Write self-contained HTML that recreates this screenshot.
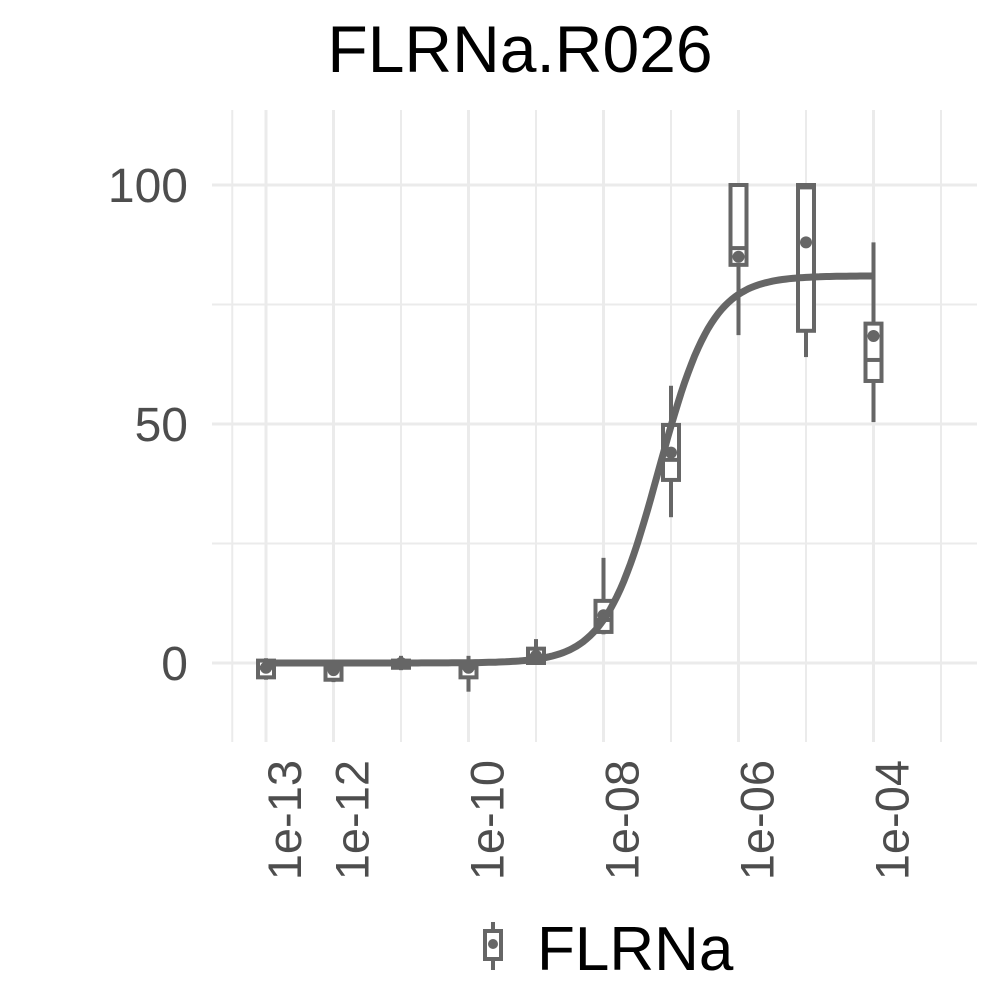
<!DOCTYPE html>
<html><head><meta charset="utf-8"><style>
body{margin:0;background:#fff}
svg text{font-family:"Liberation Sans",sans-serif}
</style></head><body>
<svg id="chart" width="1000" height="1000">
<text x="520" y="72" text-anchor="middle" font-size="66" fill="#000">FLRNa.R026</text>
<g id="grid"></g>
<g id="yaxis"></g>
<g id="xaxis"></g>
<g id="boxes"></g>
<path id="curve" fill="none" stroke="#666" stroke-width="7"></path>
<g>
<g>
<line x1="493" y1="922" x2="493" y2="970" stroke="#666" stroke-width="4"/>
<rect x="485" y="931" width="16" height="28" fill="#fff" stroke="#666" stroke-width="4"/>
<circle cx="493" cy="944" r="5" fill="#666"/>
</g>
<text x="537" y="970" font-size="62" fill="#000">FLRNa</text>
</g>
</svg>
<script>
const doses=[-13,-12,-11,-10,-9,-8,-7,-6,-5,-4];
const wLow=[-3.5,-4,-1.5,-6,0,6,30.5,68.6,64,50.4];
const q1=[-3,-3.5,-1,-3,0,6.5,38.3,83.3,69.5,59];
const med=[-1,-1,0,-1,1.5,9,42.5,86.8,99.5,63.4];
const q3=[0.5,0,0.5,0,3,13,49.8,100,100,71];
const wHigh=[1,0.5,1.5,1.5,5,22,58,100,100,88];
const means=[-1,-1.5,0,-1,1.5,10,44,85,88,68.4];
const yTicks=[0,50,100];
const yMinor=[25,75];
const xTickLabels=["1e-13","1e-12","1e-10","1e-08","1e-06","1e-04"];
const xTickVals=[-13,-12,-10,-8,-6,-4];
const fitBottom=0,fitTop=81,fitLogEC50=-7.18,fitHill=1.1;
const X=l=>266+(l+13)*67.5;
const Y=v=>663-4.78*v;
const NS="http://www.w3.org/2000/svg";
function mk(tag,attrs,parent){const e=document.createElementNS(NS,tag);for(const k in attrs)e.setAttribute(k,attrs[k]);parent.appendChild(e);return e;}
const grid=document.getElementById('grid');
const gridX=[-13.5,-13,-12,-11,-10,-9,-8,-7,-6,-5,-4,-3];
gridX.forEach(l=>{const e=mk('line',{x1:X(l),x2:X(l),y1:110,y2:742,stroke:'#ebebeb','stroke-width':xTickVals.includes(l)?3:2},grid);

});
yTicks.concat(yMinor).forEach(v=>{const e=mk('line',{x1:212,x2:977,y1:Y(v),y2:Y(v),stroke:'#ebebeb','stroke-width':yTicks.includes(v)?3:2},grid);

});
const ya=document.getElementById('yaxis');
yTicks.forEach(v=>{const t=mk('text',{x:188,y:Y(v)+17,'text-anchor':'end','font-size':48,fill:'#4d4d4d'},ya);t.textContent=v;

});
const xa=document.getElementById('xaxis');
xTickVals.forEach((l,i)=>{const t=mk('text',{x:0,y:0,'text-anchor':'end','font-size':47,fill:'#4d4d4d',transform:`translate(${X(l)+35},760) rotate(-90)`},xa);t.textContent=xTickLabels[i];

});
const bx=document.getElementById('boxes');
doses.forEach((l,i)=>{const g=mk('g',{},bx);


const x=X(l);const st={stroke:'#666','stroke-width':4};
mk('line',Object.assign({x1:x,x2:x,y1:Y(wHigh[i]),y2:Y(q3[i])},st),g);
mk('line',Object.assign({x1:x,x2:x,y1:Y(q1[i]),y2:Y(wLow[i])},st),g);
mk('rect',Object.assign({x:x-8,y:Y(q3[i]),width:16,height:Math.max(Y(q1[i])-Y(q3[i]),1),fill:'#fff'},st),g);
mk('line',Object.assign({x1:x-8,x2:x+8,y1:Y(med[i]),y2:Y(med[i])},st),g);
mk('circle',{cx:x,cy:Y(means[i]),r:6,fill:'#666'},g);});
let d='';for(let l=-13;l<=-4+0.0001;l+=0.05){const v=fitBottom+(fitTop-fitBottom)/(1+Math.pow(10,(fitLogEC50-l)*fitHill));d+=(d?'L':'M')+X(l).toFixed(1)+','+Y(v).toFixed(1);}
document.getElementById('curve').setAttribute('d',d);
</script>
</body></html>
